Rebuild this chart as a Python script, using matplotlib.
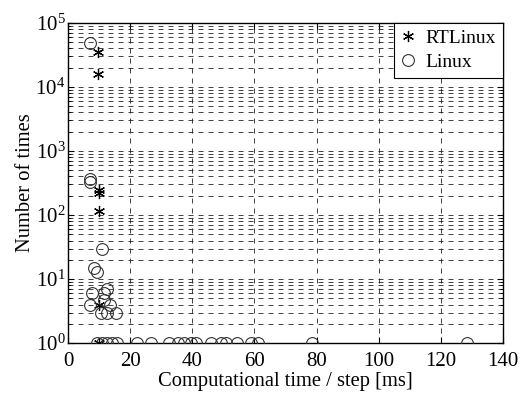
import matplotlib
matplotlib.use("Agg")
import matplotlib.pyplot as plt
from matplotlib.ticker import LogLocator, NullFormatter

plt.rcParams['font.family'] = ['Liberation Serif', 'DejaVu Serif']
plt.rcParams['mathtext.fontset'] = 'custom'
plt.rcParams['mathtext.rm'] = 'Liberation Serif'
plt.rcParams['mathtext.it'] = 'Liberation Serif:italic'

# RTLinux: computational time [ms] vs number of times
rt_time = [9.5, 9.5, 10.0, 10.0, 10.0, 10.0, 9.8]
rt_count = [35000, 16000, 250, 220, 115, 4, 1]

# Linux
lx_time = [7.0, 7.0, 8.2, 9.3, 10.8, 7.6, 11.5, 12.4, 7.0, 11.5, 13.4,
           10.5, 12.5, 15.5, 7.0,
           9.2, 10.8, 12.4, 14.0, 15.6, 22.2, 26.6, 32.5, 35.5, 37.4, 39.6,
           41.2, 46.0, 49.2, 50.8, 54.5, 58.8, 61.2, 78.5, 128.6]
lx_count = [48000, 360, 15, 13, 30, 6, 6, 7, 4, 4.7, 4,
            3, 3, 3, 330,
            1, 1, 1, 1, 1, 1, 1, 1, 1, 1, 1,
            1, 1, 1, 1, 1, 1, 1, 1, 1]

x_ticks = [0, 20, 40, 60, 80, 100, 120, 140]

fig = plt.figure(figsize=(5.2, 3.94), dpi=100)
ax = fig.add_axes([0.131, 0.129, 0.836, 0.813])

asterisk = (6, 2, 0)
ax.plot(rt_time, rt_count, linestyle='none', marker=asterisk, markersize=8,
        markeredgecolor='black', markeredgewidth=0.9, label='RTLinux', zorder=3)
ax.plot(lx_time, lx_count, linestyle='none', marker='o', markersize=8.5,
        markerfacecolor='none', markeredgecolor='#333333', markeredgewidth=0.8,
        label='Linux', zorder=3)

ax.set_yscale('log')
ax.set_xlim(0, 140)
ax.set_ylim(1, 1e5)
ax.set_xticks(x_ticks)
ax.yaxis.set_major_locator(LogLocator(base=10, numticks=10))
ax.yaxis.set_minor_locator(LogLocator(base=10, subs=range(2, 10), numticks=10))
ax.yaxis.set_minor_formatter(NullFormatter())

ax.grid(True, which='major', axis='both', color='#222222', linestyle=(0, (6, 6)), linewidth=0.6)
ax.grid(True, which='minor', axis='y', color='#222222', linestyle=(0, (6, 6)), linewidth=0.6)

ax.tick_params(which='both', direction='in', top=True, right=True, labelsize=15)
ax.tick_params(which='major', length=4, pad=2)
ax.tick_params(axis='x', which='major', pad=6)
ax.tick_params(which='minor', length=2)
for s in ax.spines.values():
    s.set_linewidth(1.0)

ax.set_xlabel('Computational time / step [ms]', fontsize=14.8, labelpad=1)
ax.set_ylabel('Number of times', fontsize=14.8, labelpad=0)

leg = ax.legend(loc='upper right', borderaxespad=0, fontsize=14, fancybox=False,
                framealpha=1, edgecolor='black', handletextpad=0.5,
                handlelength=0.8, borderpad=0.35, labelspacing=0.3)
leg.get_frame().set_linewidth(0.8)

fig.savefig('out.png', dpi=100)
